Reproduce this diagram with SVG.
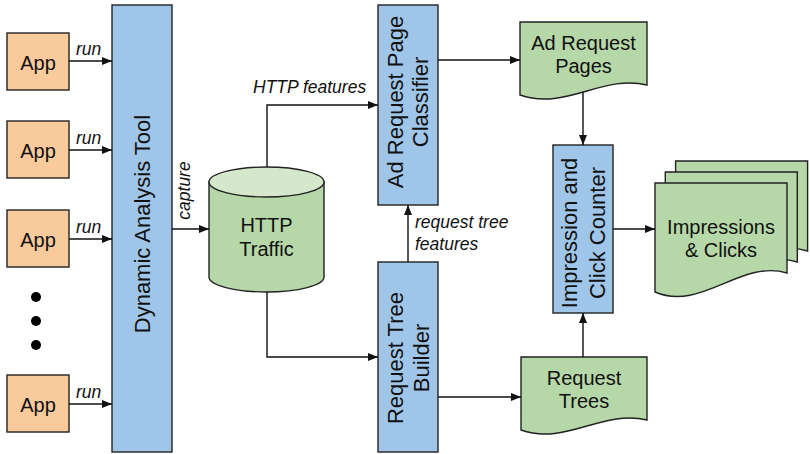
<svg xmlns="http://www.w3.org/2000/svg" width="810" height="454" viewBox="0 0 810 454">
  <style>
    .box { stroke: #222; stroke-width: 1.4; }
    .app { fill: #F9CB9C; }
    .proc { fill: #9FC5E8; }
    .data { fill: #B6D7A8; }
    .lbl { font-family: "Liberation Sans", Arial, sans-serif; font-size: 20px; fill: #111; text-anchor: middle; }
    .vlbl { font-family: "Liberation Sans", Arial, sans-serif; font-size: 22px; fill: #111; text-anchor: middle; }
    .el { font-family: "Liberation Sans", Arial, sans-serif; font-size: 17.5px; font-style: italic; fill: #111; }
    .wire { fill: none; stroke: #111; stroke-width: 1.4; }
  </style>
  <defs>
    <marker id="arrow" markerWidth="10" markerHeight="8" refX="10" refY="4" orient="auto" markerUnits="userSpaceOnUse">
      <path d="M0,0 L10,4 L0,8 Z" fill="#111"/>
    </marker>
    <!-- page shape used for the stacked output -->
    <path id="page" d="M655,183 H787 V273 C741,259 701,312 655,292 Z"/>
  </defs>

  <!-- apps -->
  <g id="app1"><rect class="box app" x="7" y="33" width="62" height="57"/><text class="lbl" x="38" y="70" font-size="21.5">App</text></g>
  <g id="app2"><rect class="box app" x="7" y="121" width="62" height="57"/><text class="lbl" x="38" y="158" font-size="21.5">App</text></g>
  <g id="app3"><rect class="box app" x="7" y="210" width="62" height="57"/><text class="lbl" x="38" y="247" font-size="21.5">App</text></g>
  <g id="dots" fill="#000"><circle cx="36" cy="297" r="5"/><circle cx="36" cy="321" r="5"/><circle cx="36" cy="345" r="5"/></g>
  <g id="app4"><rect class="box app" x="7" y="375" width="62" height="57"/><text class="lbl" x="38" y="412" font-size="21.5">App</text></g>

  <!-- analysis tool -->
  <g id="dynamic-analysis-tool">
    <rect class="box proc" x="112" y="5" width="60" height="447"/>
    <text class="vlbl" font-size="21" transform="translate(150,224) rotate(-90)">Dynamic Analysis Tool</text>
  </g>

  <!-- traffic store -->
  <g id="http-traffic">
    <path class="box data" d="M209,182 V277 A57.5,15 0 0 0 324,277 V182 Z"/>
    <ellipse class="box" cx="266.5" cy="182" rx="57.5" ry="15" fill="#D5E8CC"/>
    <text class="lbl" x="266.5" y="232">HTTP</text>
    <text class="lbl" x="266.5" y="256">Traffic</text>
  </g>

  <!-- classifier -->
  <g id="ad-request-page-classifier">
    <rect class="box proc" x="378" y="5" width="60" height="200"/>
    <text class="vlbl" transform="translate(403,102) rotate(-90)">Ad Request Page</text>
    <text class="vlbl" transform="translate(428,102) rotate(-90)">Classifier</text>
  </g>

  <!-- tree builder -->
  <g id="request-tree-builder">
    <rect class="box proc" x="378" y="262" width="60" height="190"/>
    <text class="vlbl" transform="translate(403,358) rotate(-90)">Request Tree</text>
    <text class="vlbl" transform="translate(429,358) rotate(-90)">Builder</text>
  </g>

  <!-- pages output -->
  <g id="ad-request-pages">
    <path class="box data" d="M520,22 H647 V85 C603,74 565,111 520,95 Z"/>
    <text class="lbl" x="583.5" y="50">Ad Request</text>
    <text class="lbl" x="583.5" y="73">Pages</text>
  </g>

  <!-- trees output -->
  <g id="request-trees">
    <path class="box data" d="M521,357 H647 V420 C603,409 565,446 521,430 Z"/>
    <text class="lbl" x="584" y="385">Request</text>
    <text class="lbl" x="584" y="408">Trees</text>
  </g>

  <!-- counter -->
  <g id="impression-click-counter">
    <rect class="box proc" x="553" y="145" width="60" height="168"/>
    <text class="vlbl" transform="translate(577,233) rotate(-90)">Impression and</text>
    <text class="vlbl" transform="translate(605,233) rotate(-90)">Click Counter</text>
  </g>

  <!-- stacked result pages -->
  <g id="impressions-clicks">
    <use href="#page" class="box data" transform="translate(20.6,-22)"/>
    <use href="#page" class="box data" transform="translate(10.3,-11)"/>
    <use href="#page" class="box data"/>
    <text class="lbl" x="721" y="234">Impressions</text>
    <text class="lbl" x="721" y="257">&amp; Clicks</text>
  </g>

  <!-- connectors -->
  <g id="connectors">
    <path class="wire" marker-end="url(#arrow)" d="M69,61 H112"/>
    <path class="wire" marker-end="url(#arrow)" d="M69,150 H112"/>
    <path class="wire" marker-end="url(#arrow)" d="M69,239 H112"/>
    <path class="wire" marker-end="url(#arrow)" d="M69,404 H112"/>
    <path class="wire" marker-end="url(#arrow)" d="M172,229 H209"/>
    <path class="wire" marker-end="url(#arrow)" d="M267,167 V105 H378"/>
    <path class="wire" marker-end="url(#arrow)" d="M267,292 V357 H378"/>
    <path class="wire" marker-end="url(#arrow)" d="M408,262 V205"/>
    <path class="wire" marker-end="url(#arrow)" d="M438,60 H520"/>
    <path class="wire" marker-end="url(#arrow)" d="M583,92 V145"/>
    <path class="wire" marker-end="url(#arrow)" d="M438,397 H521"/>
    <path class="wire" marker-end="url(#arrow)" d="M583,357 V313"/>
    <path class="wire" marker-end="url(#arrow)" d="M613,229 H655"/>

    <text class="el" x="76" y="54.5">run</text>
    <text class="el" x="76" y="143.5">run</text>
    <text class="el" x="76" y="232.5">run</text>
    <text class="el" x="76" y="397.5">run</text>
    <text class="el" text-anchor="middle" transform="translate(189.5,190.5) rotate(-90)">capture</text>
    <text class="el" x="253" y="93">HTTP features</text>
    <text class="el" x="415" y="227.5">request tree</text>
    <text class="el" x="415" y="250">features</text>
  </g>
</svg>
